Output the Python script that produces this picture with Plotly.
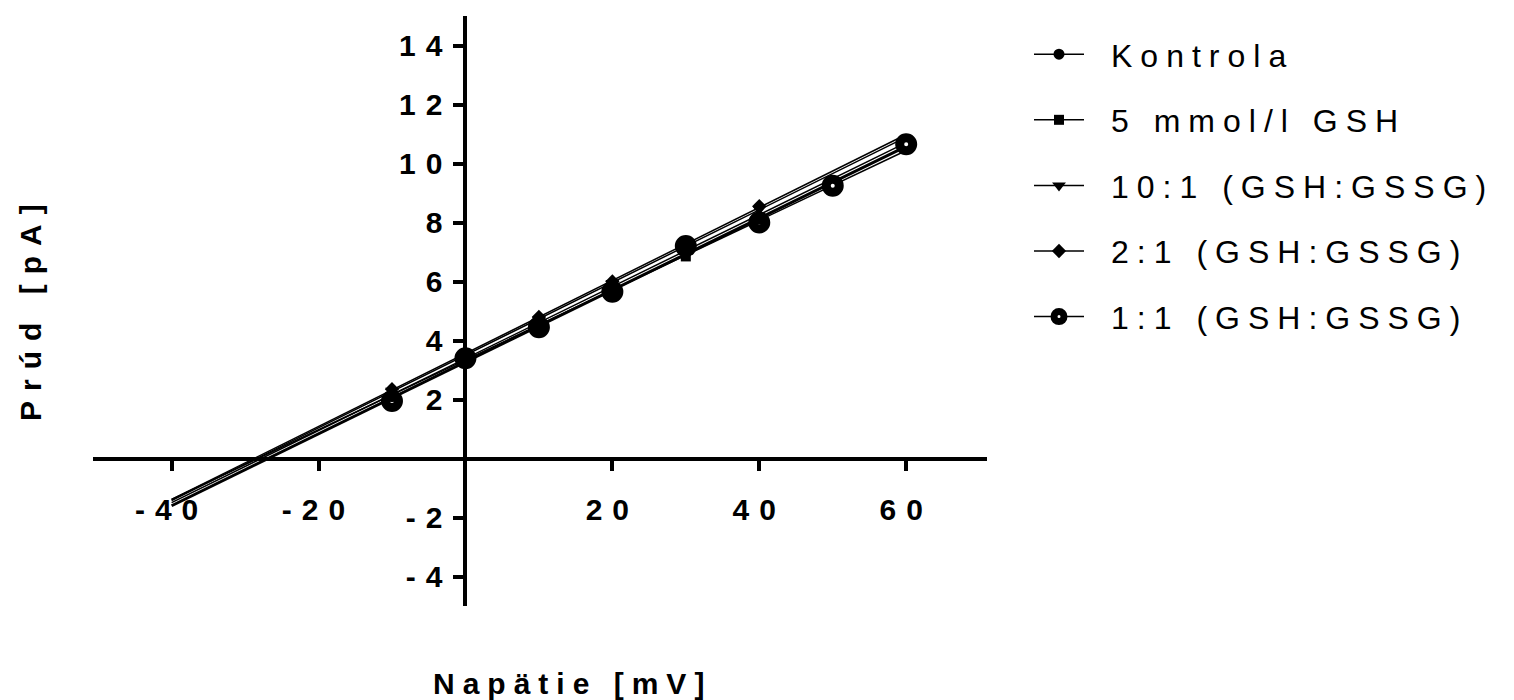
import numpy as np
import plotly.graph_objects as go

# ---------------- data ----------------
X_MAIN = [-10, 0, 10, 20, 30, 40]
X_11 = [-10, 0, 10, 20, 30, 40, 50, 60]

kontrola = [2.1, 3.45, 4.6, 5.8, 7.2, 8.15]
gsh_5mmol = [2.1, 3.45, 4.5, 5.7, 6.85, 8.1]
ratio_10_1 = [2.3, 3.5, 4.7, 5.95, 7.2, 8.45]
ratio_2_1 = [2.35, 3.55, 4.8, 6.0, 7.25, 8.55]
ratio_1_1 = [1.95, 3.4, 4.45, 5.65, 7.2, 8.0, 9.25, 10.65]

FIT_X = [-40, 60]

X_TICKS = [-40, -20, 20, 40, 60]
X_TICKTEXT = ["-40", "-20", "20", "40", "60"]
Y_TICKS = [-4, -2, 2, 4, 6, 8, 10, 12, 14]
Y_TICKTEXT = ["-4", "-2", "2", "4", "6", "8", "10", "12", "14"]

X_RANGE = [-50.7, 71]
Y_RANGE = [-5, 15]

NAMES = ["Kontrola", "5 mmol/l GSH", "10:1 (GSH:GSSG)", "2:1 (GSH:GSSG)", "1:1 (GSH:GSSG)"]

FONT = "Liberation Sans, Arial, sans-serif"

series = [
    dict(name=NAMES[0], x=X_MAIN, y=kontrola, symbol="circle", size=11, fill="black", lw=0, fitw=1.5),
    dict(name=NAMES[1], x=X_MAIN, y=gsh_5mmol, symbol="square", size=10, fill="black", lw=0, fitw=1.5),
    dict(name=NAMES[2], x=X_MAIN, y=ratio_10_1, symbol="triangle-down", size=12, fill="black", lw=0, fitw=1.5),
    dict(name=NAMES[3], x=X_MAIN, y=ratio_2_1, symbol="diamond", size=11, fill="black", lw=0, fitw=1.5),
    dict(name=NAMES[4], x=X_11, y=ratio_1_1, symbol="circle", size=13, fill="white", lw=9, fitw=3),
]

fig = go.Figure()

# legend-only entries (in legend order)
for i, s in enumerate(series):
    fig.add_trace(go.Scatter(
        x=[None], y=[None], mode="lines+markers", name=s["name"],
        legendgroup=s["name"], legendrank=i + 1,
        line=dict(color="black", width=1.5),
        marker=dict(symbol=s["symbol"], size=s["size"] if s["lw"] == 0 else 10,
                    color=s["fill"], line=dict(color="black", width=min(s["lw"], 5))),
        showlegend=True, hoverinfo="skip",
    ))

# linear regression lines
for s in series:
    slope, intercept = np.polyfit(s["x"], s["y"], 1)
    fx = np.array(FIT_X, dtype=float)
    fig.add_trace(go.Scatter(
        x=fx, y=slope * fx + intercept, mode="lines",
        line=dict(color="black", width=s["fitw"]),
        legendgroup=s["name"], showlegend=False, hoverinfo="skip",
    ))

# data points (1:1 drawn first, Kontrola last)
for s in reversed(series):
    fig.add_trace(go.Scatter(
        x=s["x"], y=s["y"], mode="markers",
        marker=dict(symbol=s["symbol"], size=s["size"], color=s["fill"],
                    line=dict(color="black", width=s["lw"])),
        legendgroup=s["name"], showlegend=False,
    ))

x_pos = (0 - X_RANGE[0]) / (X_RANGE[1] - X_RANGE[0])
y_pos = (0 - Y_RANGE[0]) / (Y_RANGE[1] - Y_RANGE[0])

axis_common = dict(
    showline=True, linewidth=4, linecolor="black",
    ticks="outside", ticklen=10, tickwidth=4, tickcolor="black",
    showgrid=False, zeroline=False, anchor="free",
    tickfont=dict(family=FONT, size=30, color="black", weight="bold"),
)

L, R, T, B = 93, 527, 16, 94
plot_w = 1514 - L - R
plot_h = 700 - T - B

fig.update_layout(
    width=1514, height=700,
    template="none",
    paper_bgcolor="white", plot_bgcolor="white",
    margin=dict(l=L, r=R, t=T, b=B),
    xaxis=dict(range=X_RANGE, tickvals=X_TICKS, ticktext=X_TICKTEXT,
               position=y_pos, ticklabelstandoff=13, **axis_common),
    yaxis=dict(range=Y_RANGE, tickvals=Y_TICKS, ticktext=Y_TICKTEXT,
               position=x_pos, ticklabelstandoff=-5, **axis_common),
    legend=dict(x=(1029 - L) / plot_w, y=0.9815, xanchor="left", yanchor="top",
                font=dict(family=FONT, size=32, color="black"),
                itemwidth=50,
                tracegroupgap=21, bgcolor="rgba(0,0,0,0)", traceorder="grouped"),
    annotations=[
        dict(text="Napätie [mV]", xref="paper", yref="paper", x=(572 - L) / plot_w, y=(700 - B - 683) / plot_h,
             showarrow=False, xanchor="center", yanchor="middle",
             font=dict(family=FONT, size=30, color="black", weight="bold")),
        dict(text="Prúd [pA]", xref="paper", yref="paper", x=(30 - L) / plot_w, y=(700 - B - 308) / plot_h,
             showarrow=False, xanchor="center", yanchor="middle", textangle=-90,
             font=dict(family=FONT, size=30, color="black", weight="bold")),
    ],
    showlegend=True,
)

post = """
var gd = document.getElementById('{plot_id}');
gd.querySelectorAll('.xtick text, .ytick text').forEach(function(t){t.style.letterSpacing='10px';});
gd.querySelectorAll('.legendtext').forEach(function(t){
  t.style.letterSpacing='8px';
  var x = parseFloat(t.getAttribute('x') || '0');
  t.setAttribute('x', x + 22);
});
var ann = gd.querySelectorAll('.annotation-text');
if (ann.length > 0) { ann[0].style.letterSpacing = '8px'; }
if (ann.length > 1) { ann[1].style.letterSpacing = '10px'; }
gd.querySelectorAll('.legend [clip-path], .legend').forEach(function(e){e.removeAttribute('clip-path');});
gd.querySelectorAll('.legend .traces').forEach(function(tr){
  var txt = tr.querySelector('.legendtext');
  if (txt && txt.textContent.indexOf('1:1') === 0) {
    tr.querySelectorAll('.legendpoints path.scatterpts').forEach(function(p){p.style.strokeWidth='7px';});
  }
});
"""

fig.write_html("out.html", post_script=post)
